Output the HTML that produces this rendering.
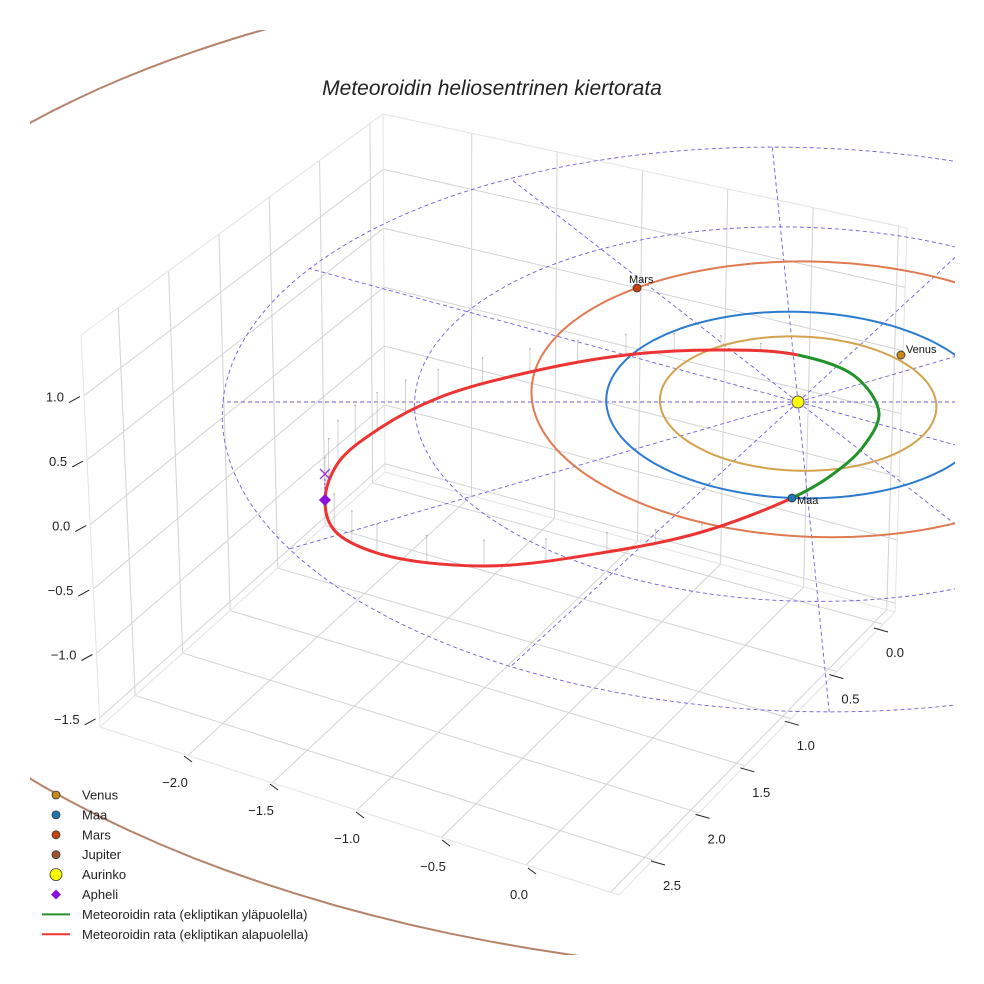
<!DOCTYPE html>
<html><head><meta charset="utf-8"><style>
html,body{margin:0;padding:0;background:#fff}
svg{display:block;font-family:"Liberation Sans",sans-serif}
</style></head><body>
<svg id="chart" width="984" height="984" viewBox="0 0 984 984" xmlns="http://www.w3.org/2000/svg">
<defs><clipPath id="clip"><rect x="30" y="30" width="925" height="925"/></clipPath></defs>
<rect width="984" height="984" fill="#fff"/>
<g id="grid"></g>
<g id="scene" clip-path="url(#clip)"></g>
<g id="labels"></g>
<text x="492" y="95" text-anchor="middle" font-size="21" font-style="italic" fill="#222">Meteoroidin heliosentrinen kiertorata</text>
<g id="legend"></g>
</svg>
<script>
// ---- data ----
const xTicks = [-2.0, -1.5, -1.0, -0.5, 0.0];
const yTicks = [0.0, 0.5, 1.0, 1.5, 2.0, 2.5];
const zTicks = [1.0, 0.5, 0.0, -0.5, -1.0, -1.5];
const planetNames = ["Venus", "Maa", "Mars"];
const planetA = [0.72, 1.0, 1.49];
const planetB = [0.72, 1.0, 1.485];
const planetCX = [0.0, 0.0, 0.1];
const planetCY = [0.0, 0.0, -0.1];
const planetPos = [[0.571, -0.512], [-0.079, 0.996], [-0.812, -1.273]];
const planetColors = ["#c98a1c", "#1f77b4", "#c8440f"];
const orbitColors = ["#d4a24c", "#2b7bd0", "#e07a50"];
const jupiterA = 5.33;
const jupiterCenter = [0.05, -0.2];
const ringRadii = [2, 3];
const radialAngles = [0, 30, 60, 90, 120, 150, 180, 210, 240, 270, 300, 330];
const meteorX = [-0.079, -0.545, -1.022, -1.631, -2.162, -2.381, -2.436, -2.381, -2.189, -1.878, -1.397, -0.887, -0.381, 0.025, 0.318, 0.415, 0.310, 0.119];
const meteorY = [0.996, 1.334, 1.529, 1.664, 1.539, 1.314, 1.016, 0.641, 0.297, -0.043, -0.325, -0.512, -0.568, -0.512, -0.270, 0.118, 0.475, 0.784];
const meteorZ = [0, -0.06, -0.15, -0.2, -0.22, -0.28, -0.33, -0.33, -0.29, -0.22, -0.18, -0.16, -0.11, 0, 0, 0, 0, 0];
const greenStart = 13;
const apheli = [-2.436, 1.016];

// ---- projection (perspective ecliptic) ----
function proj(X,Y){
  const den = 1 - 0.03245*Y;
  return [(191.7*X - 16.5*Y + 798)/den, (80.2*Y + 402)/den];
}
const NS = "http://www.w3.org/2000/svg";
function mk(tag, attrs, parent){
  const e = document.createElementNS(NS, tag);
  for (const k in attrs) e.setAttribute(k, attrs[k]);
  parent.appendChild(e); return e;
}
const grid = document.getElementById('grid');
const scene = document.getElementById('scene');
const labels = document.getElementById('labels');
const legend = document.getElementById('legend');
function line(p,q,attrs,parent){
  return mk('line',Object.assign({x1:p[0],y1:p[1],x2:q[0],y2:q[1]},attrs),parent);
}
function fmt(t){return t.toFixed(1).replace('-','\u2212');}

// box geometry
const A=[100,727], B=[619,895], C=[895,612], D=[385,472], Dt=[383,114], At=[81,335], Ct=[907,228];
function lerp(p,q,t){return [p[0]+(q[0]-p[0])*t, p[1]+(q[1]-p[1])*t];}
function bil(p00,p10,p01,p11,u,v){const a=lerp(p00,p10,u), b=lerp(p01,p11,u); return lerp(a,b,v);}
const xMin=-2.52, xMax=0.55, yMin=-0.13, yMax=2.87, zMin=-1.57, zMax=1.47;
function floorPt(x,y){const u=(x-xMin)/(xMax-xMin), v=(yMax-y)/(yMax-yMin); return bil(A,B,D,C,u,v);}
function leftPt(y,z){const u=(yMax-y)/(yMax-yMin), v=(z-zMin)/(zMax-zMin); return bil(A,D,At,Dt,u,v);}
function backPt(x,z){const u=(x-xMin)/(xMax-xMin), v=(z-zMin)/(zMax-zMin); return bil(D,C,Dt,Ct,u,v);}
const gstyle = {stroke:'#d3d3d3','stroke-width':1};
const xg=[-2.0,-1.5,-1.0,-0.5,0.0,0.5], yg=[0,0.5,1.0,1.5,2.0,2.5], zg=[-1.5,-1.0,-0.5,0,0.5,1.0];
xg.forEach(x=>{ line(floorPt(x,yMin),floorPt(x,yMax),gstyle,grid); line(backPt(x,zMin),backPt(x,zMax),gstyle,grid);});
yg.forEach(y=>{ line(floorPt(xMin,y),floorPt(xMax,y),gstyle,grid); line(leftPt(y,zMin),leftPt(y,zMax),gstyle,grid);});
zg.forEach(z=>{ line(leftPt(yMax,z),leftPt(yMin,z),gstyle,grid); line(backPt(xMin,z),backPt(xMax,z),gstyle,grid);});
[[A,D],[D,C],[A,At],[D,Dt],[At,Dt],[Dt,Ct],[C,Ct],[A,B],[B,C]].forEach(s=>line(s[0],s[1],{stroke:'#e3e3e3','stroke-width':1},grid));

// tick labels
xTicks.forEach(t=>{
  const lx=175+(t+2)*172, ly=782+(t+2)*56;
  const tk=line([lx+9,ly-26],[lx+17,ly-20],{stroke:'#222','stroke-width':1},labels);
  
  
  const tx=mk('text',{x:lx,y:ly+5,'text-anchor':'middle','font-size':13,fill:'#222'},labels);
  tx.textContent=fmt(t);
  
  
});
yTicks.forEach(t=>{
  const lx=895-t*89.2, ly=652+t*93.2;
  const tk=line([lx-21,ly-24],[lx-7,ly-20],{stroke:'#222','stroke-width':1},labels);
  
  
  const tx=mk('text',{x:lx,y:ly+5,'text-anchor':'middle','font-size':13,fill:'#222'},labels);
  tx.textContent=fmt(t);
  
  
});
zTicks.forEach(t=>{
  const p=leftPt(yMax,t);
  const tk=line([p[0]-15,p[1]+7],[p[0]-4,p[1]+1],{stroke:'#222','stroke-width':1},labels);
  
  
  const tx=mk('text',{x:p[0]-20,y:p[1]+6,'text-anchor':'end','font-size':13,fill:'#222'},labels);
  tx.textContent=fmt(t);
  
  
});

function ellipsePath(cx,cy,a,b){
  let d='';
  for(let i=0;i<=360;i+=2){
    const t=i*Math.PI/180;
    const p=proj(cx+a*Math.cos(t), cy+b*Math.sin(t));
    d+=(i?'L':'M')+p[0].toFixed(1)+','+p[1].toFixed(1);
  }
  return d+'Z';
}

// jupiter orbit
const jup=mk('path',{d:ellipsePath(jupiterCenter[0],jupiterCenter[1],jupiterA,jupiterA),fill:'none',stroke:'#b5836a','stroke-width':2},scene);



// dashed rings and radials
const dash={fill:'none',stroke:'#6a5fd8','stroke-width':0.9,'stroke-dasharray':'4,3'};
ringRadii.forEach(r=>{
  const e=mk('path',Object.assign({d:ellipsePath(0,0,r,r)},dash),scene);
  
  
});
const rMax=ringRadii[ringRadii.length-1];
radialAngles.forEach(a=>{
  const t=a*Math.PI/180;
  const l=line(proj(0,0),proj(rMax*Math.cos(t),rMax*Math.sin(t)),dash,scene);
  
  
});

// planet orbits
planetA.forEach((a,i)=>{
  const e=mk('path',{d:ellipsePath(planetCX[i],planetCY[i],a,planetB[i]),fill:'none',stroke:orbitColors[i],'stroke-width':2},scene);
  
  
});

// meteoroid orbit (centripetal Catmull-Rom through projected points)
const n=meteorX.length;
const P=k=>proj(meteorX[((k%n)+n)%n],meteorY[((k%n)+n)%n]);
function dist(a,b){return Math.pow(Math.hypot(a[0]-b[0],a[1]-b[1]),0.5)||1e-6;}
function segPts(i){
  const p0=P(i-1),p1=P(i),p2=P(i+1),p3=P(i+2);
  const d1=dist(p0,p1), d2=dist(p1,p2), d3=dist(p2,p3);
  const b1=[0,1].map(k=>(d1*d1*p2[k]-d2*d2*p0[k]+(2*d1*d1+3*d1*d2+d2*d2)*p1[k])/(3*d1*(d1+d2)));
  const b2=[0,1].map(k=>(d3*d3*p1[k]-d2*d2*p3[k]+(2*d3*d3+3*d3*d2+d2*d2)*p2[k])/(3*d3*(d3+d2)));
  return [p1,b1,b2,p2];
}
function crPath(from,to){
  let d='';
  for(let i=from;i<to;i++){
    const s=segPts(i);
    if(i===from) d+='M'+s[0][0].toFixed(1)+','+s[0][1].toFixed(1);
    d+='C'+s.slice(1).map(p=>p[0].toFixed(1)+','+p[1].toFixed(1)).join(' ');
  }
  return d;
}
// drop stems
const stems=mk('g',{stroke:'#b5b5b5','stroke-width':0.6},scene);


for(let i=1;i<greenStart;i++){
  const s=segPts(i);
  for(let k=0;k<2;k++){
    const t=k/2, mt=1-t;
    const x=mt*mt*mt*s[0][0]+3*mt*mt*t*s[1][0]+3*mt*t*t*s[2][0]+t*t*t*s[3][0];
    const y=mt*mt*mt*s[0][1]+3*mt*mt*t*s[1][1]+3*mt*t*t*s[2][1]+t*t*t*s[3][1];
    const z=meteorZ[i]*mt+meteorZ[i+1]*t;
    const h=-z*129;
    if(h<3) continue;
    line([x,y],[x,y-h],{},stems);
    mk('circle',{cx:x,cy:y-h,r:0.8,fill:'#aaa',stroke:'none'},stems);
  }
}
const red=mk('path',{d:crPath(0,greenStart),fill:'none',stroke:'#ee3333','stroke-width':3},scene);


const green=mk('path',{d:crPath(greenStart,n),fill:'none',stroke:'#22922a','stroke-width':3},scene);



// sun
const s0=proj(0,0);
const sun=mk('circle',{cx:s0[0],cy:s0[1],r:6,fill:'#ffff00',stroke:'#555','stroke-width':1},scene);



// planets
planetPos.forEach((p,i)=>{
  const q=proj(p[0],p[1]);
  const c=mk('circle',{cx:q[0],cy:q[1],r:4,fill:planetColors[i],stroke:'#333','stroke-width':0.8},scene);
  
  
  const t=mk('text',{x:q[0]+(i===2?-8:5),y:q[1]+(i===2?-5:i===1?6:-2),'font-size':11,fill:'#111'},scene);
  t.textContent=planetNames[i];
  
  
});

// apheli
(function(){
  const q=proj(apheli[0],apheli[1]); const x=q[0], y=q[1];
  const d=mk('path',{d:`M${x},${y-6}L${x+6},${y}L${x},${y+6}L${x-6},${y}Z`,fill:'#8a0fd8'},scene);
  
  
  const xm=mk('path',{d:`M${x-5},${y-31}L${x+5},${y-21}M${x+5},${y-31}L${x-5},${y-21}`,stroke:'#9a2fd8','stroke-width':1.3},scene);
  
  
  const l=line([x,y-21],[x,y-6],{stroke:'#9a2fd8','stroke-width':1,'stroke-dasharray':'2,2'},scene);
  
  
})();

// legend
const legLabels=["Venus","Maa","Mars","Jupiter","Aurinko","Apheli","Meteoroidin rata (ekliptikan yläpuolella)","Meteoroidin rata (ekliptikan alapuolella)"];
const legColors=["#c98a1c","#1f77b4","#c8440f","#a0522d","#ffff00","#8a0fd8","#22922a","#ee3333"];
legLabels.forEach((lab,i)=>{
  const y=795+i*19.9;
  let m;
  if(i<4) m=mk('circle',{cx:56,cy:y,r:4,fill:legColors[i],stroke:'#333','stroke-width':0.8},legend);
  else if(i===4) m=mk('circle',{cx:56,cy:y,r:6,fill:legColors[i],stroke:'#333','stroke-width':0.8},legend);
  else if(i===5) m=mk('path',{d:`M56,${y-5}L61,${y}L56,${y+5}L51,${y}Z`,fill:legColors[i]},legend);
  else m=line([42,y],[70,y],{stroke:legColors[i],'stroke-width':2},legend);
  
  
  const t=mk('text',{x:82,y:y+4.5,'font-size':13,fill:'#222'},legend);
  t.textContent=lab;
  
  
});
</script>
</body></html>
